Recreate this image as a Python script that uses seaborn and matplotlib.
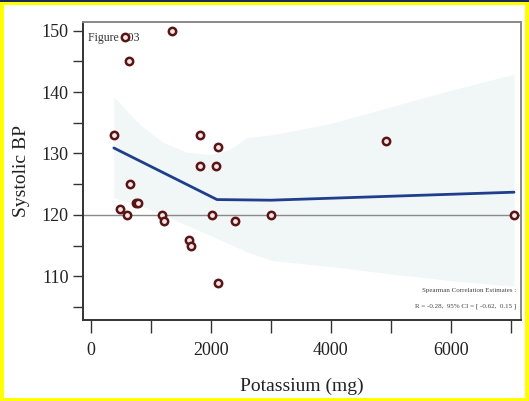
import numpy as np
import pandas as pd
import matplotlib
matplotlib.use("Agg")
import matplotlib.pyplot as plt
from matplotlib.patches import Rectangle
import seaborn as sns

# Data
potassium = [375, 566, 633, 1345, 482, 605, 650, 745, 784, 1176, 1216, 1641,
             1658, 1821, 1821, 2011, 2078, 2118, 2112, 2392, 2997, 4913, 7053]
systolic = [133, 149, 145, 150, 121, 120, 125, 122, 122, 120, 119, 116,
            115, 133, 128, 120, 128, 131, 109, 119, 120, 132, 120]

fit_x = [380, 2100, 3000, 7053]
fit_y = [130.9, 122.5, 122.4, 123.7]

band_x = [380, 800, 1200, 1600, 2000, 2300, 2600, 3000, 4000, 5000, 6000, 7053]
band_hi = [139.2, 134.8, 131.8, 130.2, 129.8, 130.6, 132.6, 133.0, 134.9, 137.6, 140.3, 142.9]
band_lo = [122.8, 121.6, 120.0, 118.3, 116.6, 115.3, 114.0, 112.6, 111.6, 110.4, 109.3, 108.4]

ref_level = 120

sns.set_style("ticks")
plt.rcParams['font.family'] = ['Liberation Serif', 'DejaVu Serif']

fig = plt.figure(figsize=(5.29, 4.01), dpi=100)
fig.patch.set_facecolor('#ffff00')
# white page inside the yellow border, navy strip on top
fig.patches.append(Rectangle((3.5 / 529, 3.5 / 401), (525 - 3.5) / 529, (396 - 3.5) / 401,
                             transform=fig.transFigure, facecolor='white', edgecolor='none', zorder=-2))
fig.patches.append(Rectangle((0, 399.3 / 401), 1, 1.7 / 401,
                             transform=fig.transFigure, facecolor='#1c2a5a', edgecolor='none', zorder=-1))

ax = fig.add_axes([83 / 529, (401 - 320) / 401, (521 - 83) / 529, (320 - 22) / 401])
ax.set_zorder(1)
ax.set_facecolor('white')

ax.fill_between(band_x, band_lo, band_hi, color='#f1f6f7', linewidth=0, zorder=1)
ax.axhline(ref_level, color='#8a8a8a', linewidth=1.0, zorder=2)
sns.lineplot(x=fit_x, y=fit_y, ax=ax, color='#1f3f8c', linewidth=2.0, zorder=3)
sns.scatterplot(x=potassium, y=systolic, ax=ax, s=28, facecolor='#f6e6e6',
                edgecolor='#5a1414', linewidth=1.8, zorder=4)

ax.set_xlim(-135, 7170)
ax.set_ylim(102.9, 151.4)
ax.set_xticks([0, 2000, 4000, 6000])
ax.set_xticks([1000, 3000, 5000, 7000], minor=True)
ax.set_yticks([110, 120, 130, 140, 150])
ax.set_yticks([105, 115, 125, 135, 145], minor=True)
ax.tick_params(axis='both', which='both', direction='out', length=7, width=1.0,
               color='#333333', labelsize=13, labelcolor='#222222')
ax.tick_params(axis='x', which='both', length=9, pad=7)

for side in ['left', 'bottom']:
    ax.spines[side].set_color('#333333')
    ax.spines[side].set_linewidth(1.4)
for side in ['top', 'right']:
    ax.spines[side].set_color('#888888')
    ax.spines[side].set_linewidth(1.4)

ax.set_xlabel('Potassium (mg)', fontsize=14, color='#222222', labelpad=13)
ax.set_ylabel('Systolic BP', fontsize=14, color='#222222', labelpad=8)

ax.text(0.012, 0.965, 'Figure 103', transform=ax.transAxes, fontsize=8.5,
        ha='left', va='top', color='#333333')
ax.text(0.99, 0.10, 'Spearman Correlation Estimates :', transform=ax.transAxes,
        fontsize=5, ha='right', va='center', color='#444444')
ax.text(0.99, 0.045, 'R = -0.28,  95% CI = [ -0.62,  0.15 ]', transform=ax.transAxes,
        fontsize=5, ha='right', va='center', color='#444444')

fig.savefig('out.png', dpi=100, facecolor=fig.get_facecolor())
